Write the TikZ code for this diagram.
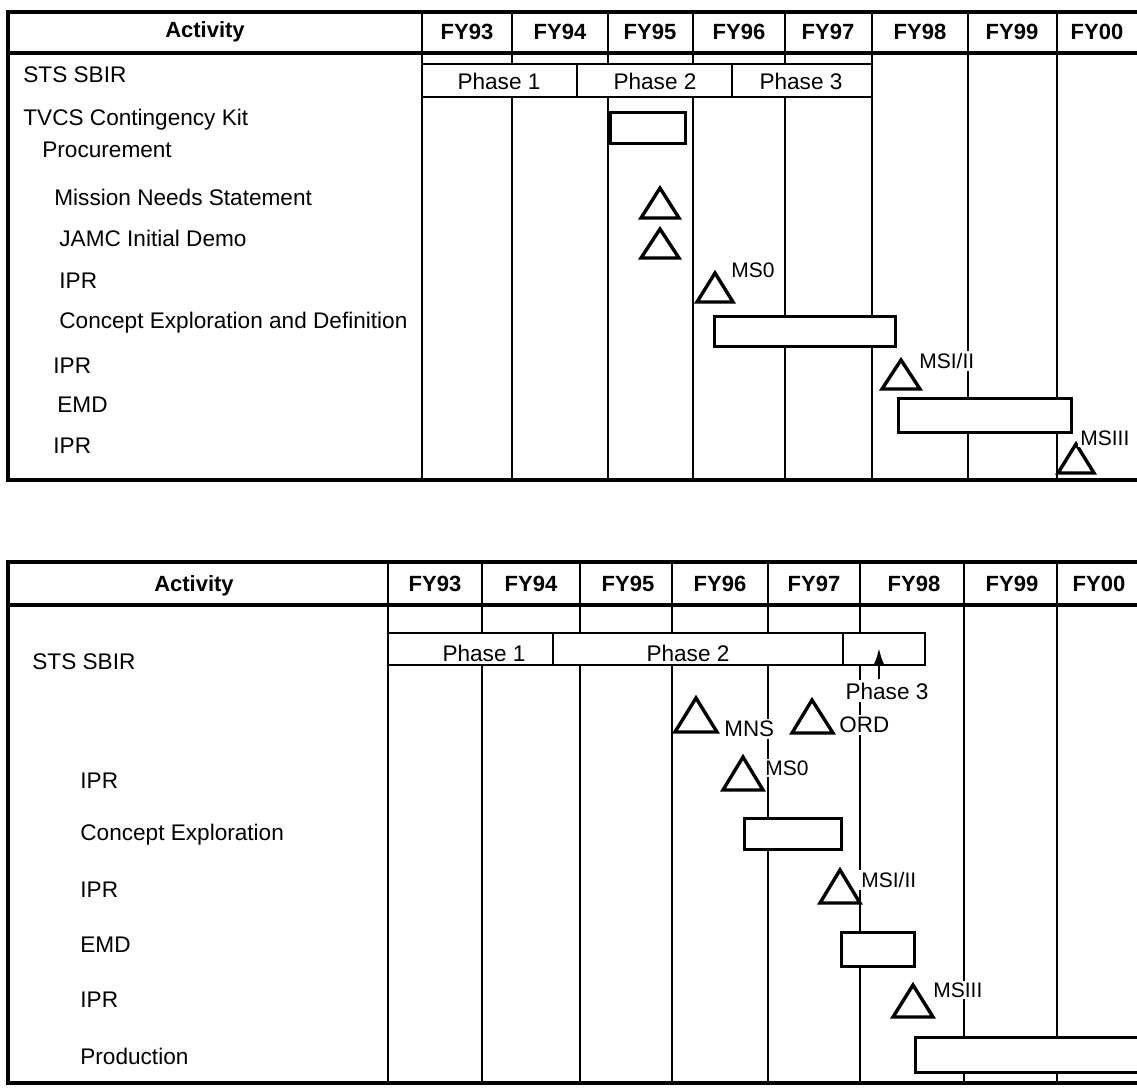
\documentclass[tikz,border=0pt]{standalone}
\usepackage{fontspec}
\setmainfont{Liberation Sans}
\usetikzlibrary{arrows.meta}
\tikzset{
  frame/.style={line width=1.6pt},
  grid/.style={line width=1.35pt},
  bar/.style={draw, line width=1.5pt, fill=white},
  tri/.style={draw, line width=1.7pt, fill=white, line join=miter},
  lbl/.style={anchor=west, inner sep=0pt, font=\fontsize{11.3}{13}\selectfont},
  hdr/.style={inner sep=0pt, font=\fontsize{11}{13}\selectfont\bfseries},
  ph/.style={inner sep=0pt, font=\fontsize{11.3}{13}\selectfont},
  ms/.style={anchor=west, inner sep=1pt, fill=white, font=\fontsize{10.5}{12}\selectfont},
  msb/.style={ms, font=\fontsize{11.2}{13}\selectfont},
}
\begin{document}
\begin{tikzpicture}[x=0.5pt,y=-0.5pt]
\useasboundingbox (0,0) rectangle (1137,1089);

% ================= TOP TABLE =================
\foreach \x in {422,872,968,1057} \draw[grid] (\x,12) -- (\x,480);
\foreach \x in {512,608,693,785} {\draw[grid] (\x,12) -- (\x,64); \draw[grid] (\x,97) -- (\x,480);}
\draw[grid] (422,64) -- (872,64);
\draw[grid] (422,97) -- (872,97);
\draw[grid] (577,64) -- (577,97);
\draw[grid] (732,64) -- (732,97);
\draw[frame] (1137,12) -- (8,12) -- (8,480) -- (1137,480);
\draw[frame] (8,53) -- (1137,53);

\node[hdr] (tAct) at (205,32) {Activity};
\node[hdr] (t93) at (467,32) {FY93};
\node[hdr] (t94) at (560,32) {FY94};
\node[hdr] (t95) at (650,32) {FY95};
\node[hdr] (t96) at (739,32) {FY96};
\node[hdr] (t97) at (828,32) {FY97};
\node[hdr] (t98) at (920,32) {FY98};
\node[hdr] (t99) at (1012,32) {FY99};
\node[hdr] (t00) at (1097,32) {FY00};

\node[ph] (tp1) at (499,81) {Phase 1};
\node[ph] (tp2) at (655,81) {Phase 2};
\node[ph] (tp3) at (801,81) {Phase 3};

\node[lbl] (tl1) at (23,75) {STS SBIR};
\node[lbl] (tl2) at (23,120) {TVCS Contingency Kit};
\node[lbl] (tl3) at (42,150) {Procurement};
\node[lbl] (tl4) at (54,197) {Mission Needs Statement};
\node[lbl] (tl5) at (59,238) {JAMC Initial Demo};
\node[lbl] (tl6) at (59,281) {IPR};
\node[lbl] (tl7) at (59,323) {Concept Exploration and Definition};
\node[lbl] (tl8) at (53,366) {IPR};
\node[lbl] (tl9) at (57,405) {EMD};
\node[lbl] (tl10) at (53,446) {IPR};

\draw[bar] (610,112) rectangle (685,143);
\draw[tri] (641,218) -- (660,188) -- (679,218) -- cycle;
\draw[tri] (641,258) -- (660,229) -- (679,258) -- cycle;
\draw[tri] (697,302) -- (715,273) -- (733,302) -- cycle;
\node[ms] (tms0) at (729,270) {MS0};
\draw[bar] (714,316) rectangle (895,346);
\draw[tri] (882,389) -- (901,360) -- (920,389) -- cycle;
\node[ms] (tms12) at (917,361) {MSI/II};
\draw[bar] (898,398) rectangle (1071,432);
\draw[tri] (1058,473) -- (1076,444) -- (1094,473) -- cycle;
\node[ms] (tms3) at (1078,438) {MSIII};

% ================= BOTTOM TABLE =================
\foreach \x in {388,964,1057} \draw[grid] (\x,562) -- (\x,1083);
\foreach \x in {482,580,672,768,860} {\draw[grid] (\x,562) -- (\x,633); \draw[grid] (\x,665) -- (\x,1083);}
\draw[grid, fill=white] (388,633) rectangle (925,665);
\draw[grid] (553,633) -- (553,665);
\draw[grid] (843,633) -- (843,665);
\draw[frame] (1137,562) -- (8,562) -- (8,1083) -- (1137,1083);
\draw[frame] (8,605) -- (1137,605);

\node[hdr] (bAct) at (194,586) {Activity};
\node[hdr] (b93) at (435,584) {FY93};
\node[hdr] (b94) at (531,584) {FY94};
\node[hdr] (b95) at (628,584) {FY95};
\node[hdr] (b96) at (720,584) {FY96};
\node[hdr] (b97) at (814,584) {FY97};
\node[hdr] (b98) at (914,584) {FY98};
\node[hdr] (b99) at (1012,584) {FY99};
\node[hdr] (b00) at (1099,584) {FY00};

\node[ph] (bp1) at (484,653) {Phase 1};
\node[ph] (bp2) at (688,653) {Phase 2};

\node[lbl] (bl1) at (32,662) {STS SBIR};
\node[lbl] (bl2) at (80,781) {IPR};
\node[lbl] (bl3) at (80,835) {Concept Exploration};
\node[lbl] (bl4) at (80,890) {IPR};
\node[lbl] (bl5) at (80,945) {EMD};
\node[lbl] (bl6) at (80,1000) {IPR};
\node[lbl] (bl7) at (80,1056) {Production};

\node[ph, fill=white, inner sep=1.5pt] (bp3) at (887,691) {Phase 3};
\coordinate (p3tip) at (879,648);
\draw[line width=1.2pt, -{Latex[length=8pt,width=5pt]}] (bp3.north -| p3tip) -- (p3tip);

\draw[tri] (675,732) -- (696,698) -- (717,732) -- cycle;
\node[msb] (bmns) at (722,729) {MNS};
\draw[tri] (792,733) -- (812,700) -- (833,733) -- cycle;
\node[msb] (bord) at (837,725) {ORD};
\draw[tri] (723,790) -- (743,757) -- (763,790) -- cycle;
\node[ms] (bms0) at (763,768) {MS0};
\draw[bar] (744,818) rectangle (841,849);
\draw[tri] (820,903) -- (840,870) -- (860,903) -- cycle;
\node[ms] (bms12) at (859,880) {MSI/II};
\draw[bar] (841,932) rectangle (914,966);
\draw[tri] (893,1017) -- (913,985) -- (933,1017) -- cycle;
\node[ms] (bms3) at (931,990) {MSIII};
\draw[bar] (915,1037) rectangle (1145,1072);
\end{tikzpicture}
\end{document}
